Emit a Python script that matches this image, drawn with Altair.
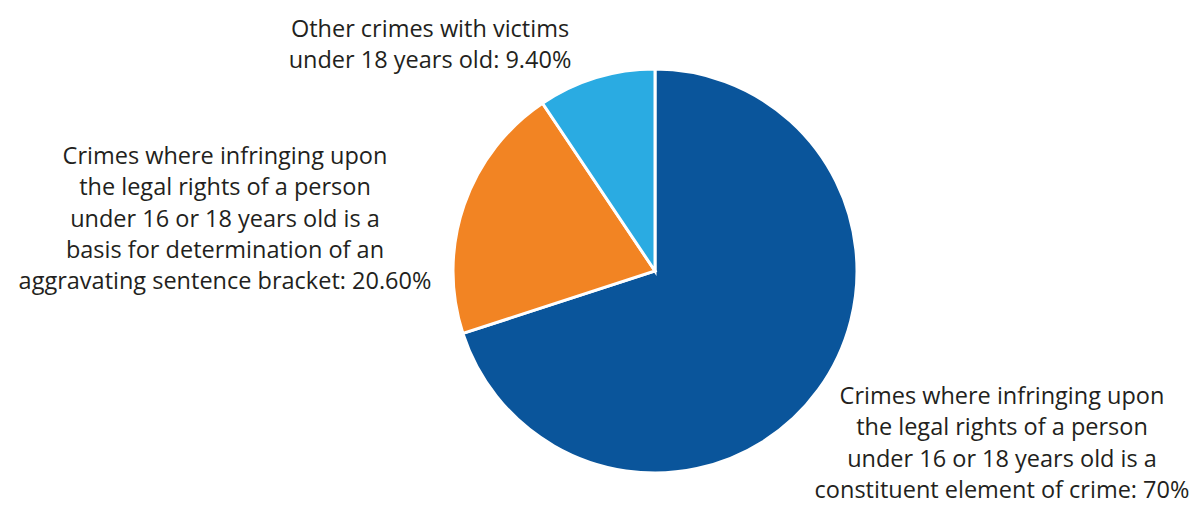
import altair as alt
import pandas as pd

categories = [
    "Crimes where infringing upon the legal rights of a person under 16 or 18 years old is a constituent element of crime",
    "Crimes where infringing upon the legal rights of a person under 16 or 18 years old is a basis for determination of an aggravating sentence bracket",
    "Other crimes with victims under 18 years old",
]
values = [70.0, 20.6, 9.4]
label_texts = [
    "Crimes where infringing upon\nthe legal rights of a person\nunder 16 or 18 years old is a\nconstituent element of crime: 70%",
    "Crimes where infringing upon\nthe legal rights of a person\nunder 16 or 18 years old is a\nbasis for determination of an\naggravating sentence bracket: 20.60%",
    "Other crimes with victims\nunder 18 years old: 9.40%",
]
colors = ["#0a559b", "#f28423", "#2aabe2"]

# label anchor positions (style, in pixels inside the view; first line centre)
label_x = [994, 217, 422]
label_y = [389, 149, 22]

CX, CY, R = 647, 263, 202

df = pd.DataFrame({
    "category": categories,
    "value": values,
    "order": [0, 1, 2],
})
lab = pd.DataFrame({"label": label_texts, "lx": label_x, "ly": label_y})

pie = alt.Chart(df).mark_arc(
    radius=R, stroke="white", strokeWidth=3
).encode(
    theta=alt.Theta("value:Q", stack=True),
    order=alt.Order("order:Q"),
    color=alt.Color("category:N", scale=alt.Scale(domain=categories, range=colors), legend=None),
    x=alt.value(CX),
    y=alt.value(CY),
)

labels = alt.Chart(lab).mark_text(
    font="Open Sans", fontSize=23.5, color="#231f20", lineBreak="\n",
    lineHeight=31.3, align="center", baseline="middle",
).encode(
    x=alt.X("lx:Q", scale=None),
    y=alt.Y("ly:Q", scale=None),
    text="label:N",
)

chart = alt.layer(pie, labels).properties(
    width=1186, height=497, padding=0,
    autosize=alt.AutoSizeParams(type="fit", contains="padding"),
).configure_view(stroke=None)

chart.save("out.html", embed_options={"renderer": "svg", "actions": False})
